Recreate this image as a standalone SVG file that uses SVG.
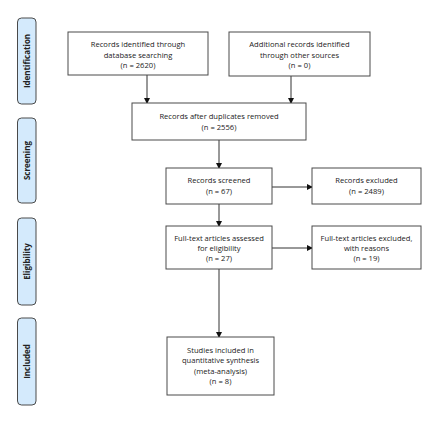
<svg xmlns="http://www.w3.org/2000/svg" width="440" height="422" viewBox="0 0 440 422">
<style>
.band{fill:#d4eafc;stroke:#4a4a4a;stroke-width:1}
.box{fill:#fff;stroke:#4a4a4a;stroke-width:1}
.t{font-family:"Open Sans","Liberation Sans",sans-serif;font-size:7.6px;fill:#222;text-anchor:middle}
.bl{font-family:"Open Sans","Liberation Sans",sans-serif;font-size:8px;font-weight:bold;fill:#222;text-anchor:middle}
.c{stroke:#333;stroke-width:1;fill:none;marker-end:url(#ah)}
</style>
<defs>
<marker id="ah" markerWidth="6" markerHeight="6" refX="5" refY="3" orient="auto" markerUnits="userSpaceOnUse">
<path d="M0,0 L6,3 L0,6 Z" fill="#111"/>
</marker>
</defs>
<rect width="440" height="422" fill="#fff"/>
<g id="band-identification">
<rect class="band" x="17.5" y="18" width="18.5" height="86" rx="4"/>
<text class="bl" transform="translate(29.7,61) rotate(-90)">Identification</text>
</g>
<g id="band-screening">
<rect class="band" x="17.5" y="118" width="18.5" height="85" rx="4"/>
<text class="bl" transform="translate(29.7,160.5) rotate(-90)">Screening</text>
</g>
<g id="band-eligibility">
<rect class="band" x="17.5" y="218" width="18.5" height="87" rx="4"/>
<text class="bl" transform="translate(29.7,261.5) rotate(-90)">Eligibility</text>
</g>
<g id="band-included">
<rect class="band" x="17.5" y="318" width="18.5" height="87" rx="4"/>
<text class="bl" transform="translate(29.7,361.5) rotate(-90)">Included</text>
</g>
<g id="connectors">
<line class="c" x1="147" y1="75" x2="147" y2="103"/>
<line class="c" x1="291" y1="76" x2="291" y2="103"/>
<line class="c" x1="219" y1="140" x2="219" y2="168"/>
<line class="c" x1="272" y1="187" x2="312" y2="187"/>
<line class="c" x1="219" y1="204" x2="219" y2="226"/>
<line class="c" x1="272" y1="248" x2="312" y2="248"/>
<line class="c" x1="219" y1="269" x2="219" y2="337"/>
</g>
<g id="n1">
<rect class="box" x="68" y="32" width="140" height="43"/>
<text class="t" x="138" y="46.5">Records identified through</text>
<text class="t" x="138" y="57.5">database searching</text>
<text class="t" x="138" y="68">(n = 2620)</text>
</g>
<g id="n2">
<rect class="box" x="229" y="32" width="141" height="44"/>
<text class="t" x="299.5" y="46.5">Additional records identified</text>
<text class="t" x="299.5" y="57.5">through other sources</text>
<text class="t" x="299.5" y="68">(n = 0)</text>
</g>
<g id="n3">
<rect class="box" x="132" y="103" width="174" height="37"/>
<text class="t" x="219" y="118.5">Records after duplicates removed</text>
<text class="t" x="219" y="129.5">(n = 2556)</text>
</g>
<g id="n4">
<rect class="box" x="166" y="168" width="106" height="36"/>
<text class="t" x="219" y="182.5">Records screened</text>
<text class="t" x="219" y="193.5">(n = 67)</text>
</g>
<g id="n5">
<rect class="box" x="312" y="168" width="109" height="36"/>
<text class="t" x="366.5" y="182.5">Records excluded</text>
<text class="t" x="366.5" y="193.5">(n = 2489)</text>
</g>
<g id="n6">
<rect class="box" x="166" y="226" width="106" height="43"/>
<text class="t" x="219" y="240.5">Full-text articles assessed</text>
<text class="t" x="219" y="251">for eligibility</text>
<text class="t" x="219" y="261">(n = 27)</text>
</g>
<g id="n7">
<rect class="box" x="312" y="226" width="109" height="43"/>
<text class="t" x="366.5" y="240.5">Full-text articles excluded,</text>
<text class="t" x="366.5" y="251">with reasons</text>
<text class="t" x="366.5" y="261">(n = 19)</text>
</g>
<g id="n8">
<rect class="box" x="167" y="337" width="107" height="58"/>
<text class="t" x="220.5" y="352.5">Studies included in</text>
<text class="t" x="220.5" y="363">quantitative synthesis</text>
<text class="t" x="220.5" y="373.5">(meta-analysis)</text>
<text class="t" x="220.5" y="384">(n = 8)</text>
</g>
</svg>
